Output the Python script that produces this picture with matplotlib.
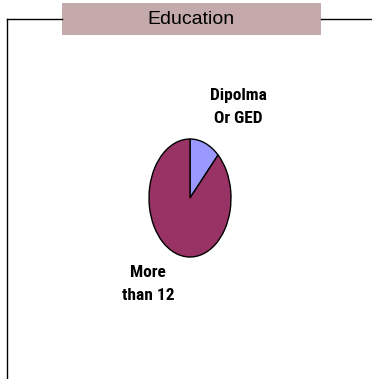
import matplotlib
matplotlib.use("Agg")
import matplotlib.pyplot as plt
from matplotlib.patches import Rectangle
from matplotlib.lines import Line2D

title = "Education"
categories = ["Dipolma\nOr GED", "More\nthan 12"]
values = [12, 88]
colors = ["#9999FF", "#993366"]

W, H = 372, 379
fig = plt.figure(figsize=(W / 100, H / 100), dpi=100)
fig.patch.set_facecolor("white")

label_fonts = ["Roboto Condensed", "Archivo Narrow", "Liberation Sans"]

def fx(px):
    return px / W

def fy(py):
    return 1 - py / H

# frame lines
fig.add_artist(Line2D([fx(7), fx(7)], [fy(19), fy(379)], color="black", lw=1.0))
fig.add_artist(Line2D([fx(7), fx(62)], [fy(19), fy(19)], color="black", lw=1.0))
fig.add_artist(Line2D([fx(321), fx(372)], [fy(19), fy(19)], color="black", lw=1.0))

# title box
fig.add_artist(Rectangle((fx(62), fy(35)), fx(321) - fx(62), fy(3) - fy(35),
                         facecolor="#C4AAAA", edgecolor="none"))
fig.text(fx(191), fy(19), title, ha="center", va="center", fontsize=14,
         family="Liberation Sans", color="black")

# pie as ellipse
ax = fig.add_axes([fx(149), fy(257), fx(231) - fx(149), fy(139) - fy(257)])
ax.pie(values, colors=colors, startangle=90, counterclock=False,
       wedgeprops=dict(edgecolor="black", linewidth=1.0))
ax.set_aspect("auto")
ax.set_xlim(-1, 1)
ax.set_ylim(-1, 1)
ax.axis("off")

fig.text(fx(238), fy(107), categories[0], ha="center", va="center", fontsize=12.5,
         family=label_fonts, weight="bold", linespacing=1.7)
fig.text(fx(148), fy(284), categories[1], ha="center", va="center", fontsize=12.5,
         family=label_fonts, weight="bold", linespacing=1.7)

fig.savefig("out.png", dpi=100)
